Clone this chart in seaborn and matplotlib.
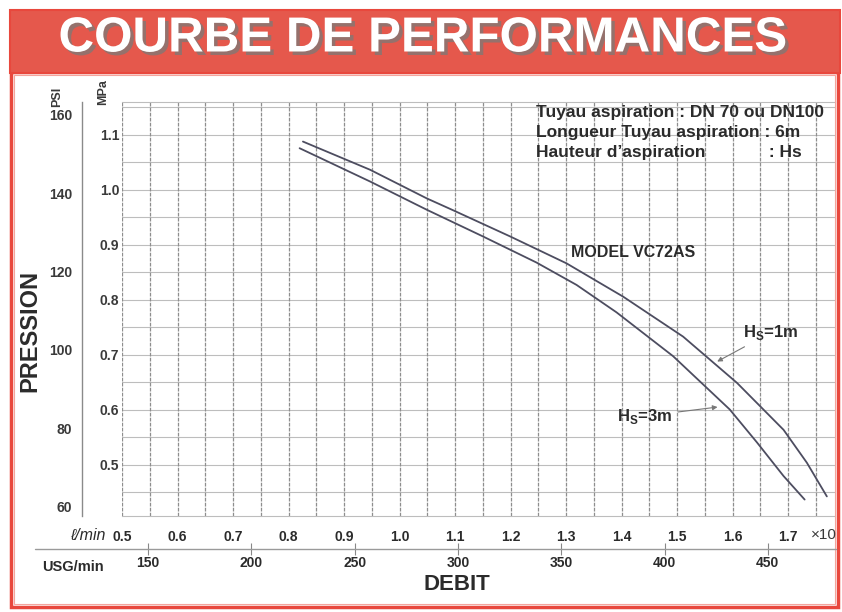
import numpy as np
import matplotlib
matplotlib.use("Agg")
import matplotlib.pyplot as plt
import matplotlib.patheffects as pe
from matplotlib.patches import Rectangle
from matplotlib.lines import Line2D
import seaborn as sns

# courbes : debit (x10 l/min) / pression (PSI)
debit_1m = [0.826, 0.947, 1.049, 1.096, 1.199, 1.301, 1.403, 1.511, 1.608, 1.692, 1.734, 1.770]
psi_1m = [153.2, 146.0, 138.7, 135.7, 129.0, 122.1, 113.6, 103.4, 91.6, 79.6, 71.2, 62.6]
debit_3m = [0.820, 0.947, 1.049, 1.150, 1.247, 1.319, 1.391, 1.493, 1.595, 1.644, 1.692, 1.730]
psi_3m = [151.5, 143.0, 135.8, 129.0, 122.3, 116.6, 109.6, 98.4, 84.8, 76.4, 67.8, 61.8]

lpm_ticks = [0.5, 0.6, 0.7, 0.8, 0.9, 1.0, 1.1, 1.2, 1.3, 1.4, 1.5, 1.6, 1.7]
lpm_labels = ["0.5", "0.6", "0.7", "0.8", "0.9", "1.0", "1.1", "1.2", "1.3", "1.4", "1.5", "1.6", "1.7"]
usg_ticks = [150, 200, 250, 300, 350, 400, 450]
usg_labels = ["150", "200", "250", "300", "350", "400", "450"]
psi_ticks = [60, 80, 100, 120, 140, 160]
psi_labels = ["60", "80", "100", "120", "140", "160"]
mpa_ticks = [0.5, 0.6, 0.7, 0.8, 0.9, 1.0, 1.1]
mpa_labels = ["0.5", "0.6", "0.7", "0.8", "0.9", "1.0", "1.1"]

infos = ["Tuyau aspiration : DN 70 ou DN100",
         "Longueur Tuyau aspiration : 6m",
         "Hauteur d\u2019aspiration             : Hs"]


# echelles secondaires (calees sur le graphique)
def psi_to_mpa(p):
    return 0.5 + (np.asarray(p) - 70.65) / 140.4


def mpa_to_psi(m):
    return 70.65 + (np.asarray(m) - 0.5) * 140.4


def lpm_to_usg(l):
    return 150 + (np.asarray(l) - 0.5468) / 0.003723


def usg_to_lpm(u):
    return 0.5468 + (np.asarray(u) - 150) * 0.003723


sns.set_style("white")
plt.rcParams["font.family"] = ["Liberation Sans", "DejaVu Sans"]

W, H = 842, 612
fig = plt.figure(figsize=(W / 100, H / 100), dpi=100)


def fx(x):
    return x / W


def fy(y):
    return 1 - y / H


red = "#e5584c"
ink = "#2b2b2b"
grey_txt = "#3a3a3a"
curve = "#4d4d60"

# cadre et bandeau
fig.add_artist(Rectangle((fx(11), fy(607)), fx(827), 535 / H, fill=False,
                         edgecolor="#e8483d", lw=2.5, transform=fig.transFigure))
fig.add_artist(Rectangle((fx(14), fy(604)), fx(821), 529 / H, fill=False,
                         edgecolor="#f4a49c", lw=0.8, transform=fig.transFigure))
fig.add_artist(Rectangle((fx(10), fy(73)), fx(830), 63 / H, facecolor=red,
                         edgecolor="#e8483d", lw=1.5, transform=fig.transFigure))
fig.text(fx(422), fy(39), "COURBE DE PERFORMANCES", color="white", fontsize=35.5,
         fontweight="bold", ha="center", va="center",
         path_effects=[pe.SimplePatchShadow(offset=(2.5, -2.5), shadow_rgbFace="#8c7470", alpha=0.9),
                       pe.Normal()])

ax = fig.add_axes([fx(122), fy(516), fx(835 - 122), (516 - 102) / H])
ax.set_xlim(0.5, 0.5 + 713 / 555)
ax.set_ylim(57.6, 163.3)

# spines d'abord (set_position remet les ticks a zero)
ax.spines["left"].set_position(("axes", -40 / 713))
ax.spines["left"].set_color("#8a8a8a")
ax.spines["left"].set_linewidth(1)
ax.spines["right"].set_visible(False)
for s in ["top", "bottom"]:
    ax.spines[s].set_color("#bdbdbd")
    ax.spines[s].set_linewidth(0.8)
    ax.spines[s].set_linestyle((0, (3, 1)))

# grille
for m in np.arange(0.45, 1.16, 0.05):
    ax.axhline(mpa_to_psi(m), color="#bdbdbd", lw=0.8, zorder=0)
ax.set_xticks(np.arange(0.55, 1.76, 0.1), minor=True)
ax.grid(axis="x", which="both", color="#8e8e8e", lw=0.9, ls=(0, (3, 1)))
ax.grid(axis="y", visible=False)

sns.lineplot(x=debit_1m, y=psi_1m, ax=ax, color=curve, lw=1.3, sort=False, estimator=None)
sns.lineplot(x=debit_3m, y=psi_3m, ax=ax, color=curve, lw=1.3, sort=False, estimator=None)

ax.tick_params(axis="x", which="both", length=0, pad=10, labelsize=10, labelcolor=ink)
ax.tick_params(axis="y", direction="out", length=5, color="#888", pad=2, labelsize=10,
               labelcolor=grey_txt)
ax.set_xticks(lpm_ticks)
ax.set_xticklabels(lpm_labels, fontweight="bold")
ax.set_yticks(psi_ticks)
ax.set_yticklabels(psi_labels, fontweight="bold")

sec_y = ax.secondary_yaxis(0, functions=(psi_to_mpa, mpa_to_psi))
sec_y.spines["left"].set_visible(False)
sec_y.tick_params(length=0, pad=2, labelsize=10, labelcolor=grey_txt)
sec_y.set_yticks(mpa_ticks)
sec_y.set_yticklabels(mpa_labels, fontweight="bold")

sec_x = ax.secondary_xaxis(-33 / 414, functions=(lpm_to_usg, usg_to_lpm))
sec_x.spines["bottom"].set_visible(False)
sec_x.tick_params(direction="inout", length=8, color="#888", pad=1, labelsize=10,
                  labelcolor=ink)
sec_x.set_xticks(usg_ticks)
sec_x.set_xticklabels(usg_labels, fontweight="bold")
fig.add_artist(Line2D([fx(35), fx(836)], [fy(549), fy(549)], color="#9a9a9a", lw=1,
                      transform=fig.transFigure))

# textes d'axes
fig.text(fx(57), fy(97), "PSI", rotation=90, fontsize=9, fontweight="bold", color=grey_txt,
         ha="center", va="center")
fig.text(fx(103), fy(92), "MPa", rotation=90, fontsize=9, fontweight="bold", color=grey_txt,
         ha="center", va="center")
fig.text(fx(30), fy(331), "PRESSION", rotation=90, fontsize=17, fontweight="bold", color=ink,
         ha="center", va="center")
fig.text(fx(88), fy(535), "\u2113/min", fontsize=11.5, color=ink, ha="center", va="center",
         style="italic")
fig.text(fx(824), fy(535), "\u00d710", fontsize=11, color=grey_txt, ha="center", va="center")
fig.text(fx(73), fy(567), "USG/min", fontsize=10.5, fontweight="bold", color=ink,
         ha="center", va="center")
fig.text(fx(457), fy(585), "DEBIT", fontsize=16, fontweight="bold", color=ink,
         ha="center", va="center")

for i, t in enumerate(infos):
    fig.text(fx(536), fy([112, 132, 153][i]), t, fontsize=12.5, fontweight="bold", color=ink,
             ha="left", va="center")

ax.text(1.309, 124.9, "MODEL VC72AS", fontsize=11.5, fontweight="bold", color=ink,
        ha="left", va="center")
arrow = dict(arrowstyle="-|>", color="#777", lw=0.8, mutation_scale=7)
ax.annotate("H$_\\mathregular{S}$=1m", xy=(1.568, 96.7), xytext=(1.619, 104.4), fontsize=12,
            fontweight="bold", color=ink, ha="left", va="center", arrowprops=arrow)
ax.annotate("H$_\\mathregular{S}$=3m", xy=(1.578, 85.5), xytext=(1.392, 83.1), fontsize=12,
            fontweight="bold", color=ink, ha="left", va="center", arrowprops=arrow)

fig.savefig("out.png", dpi=100)
